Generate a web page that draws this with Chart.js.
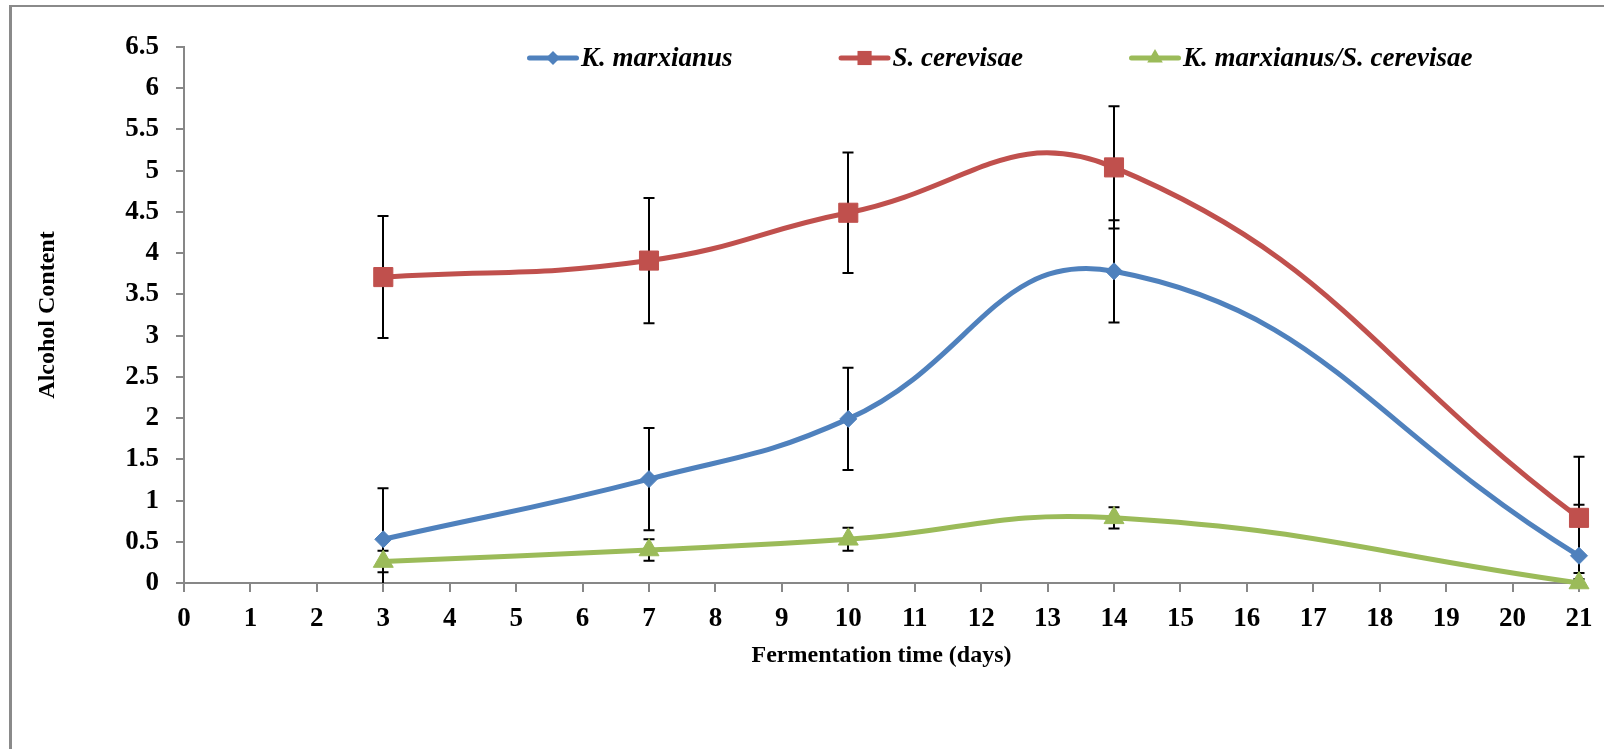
<!DOCTYPE html>
<html><head><meta charset="utf-8">
<script src="https://cdn.jsdelivr.net/npm/chart.js@4.4.0/dist/chart.umd.min.js"></script>
<style>html,body{margin:0;padding:0;background:#fff}canvas{display:block}</style>
</head><body>
<canvas id="c" width="1604" height="749"></canvas>
<script>
// ---- data ----
const days = [3, 7, 10, 14, 21];
const xTickLabels = ['0','1','2','3','4','5','6','7','8','9','10','11','12','13','14','15','16','17','18','19','20','21'];
const yTickLabels = ['0','0.5','1','1.5','2','2.5','3','3.5','4','4.5','5','5.5','6','6.5'];
const seriesNames = ['K. marxianus', 'S. cerevisae', 'K. marxianus/S. cerevisae'];
const kMarxianus    = [0.53, 1.26, 1.99, 3.78, 0.33];
const kMarxianusErr = [0.62, 0.62, 0.62, 0.62, 0.62];
const sCerevisae    = [3.71, 3.91, 4.49, 5.04, 0.79];
const sCerevisaeErr = [0.74, 0.76, 0.73, 0.74, 0.74];
const mixed         = [0.26, 0.40, 0.53, 0.79, 0.00];
const mixedErr      = [0.13, 0.13, 0.14, 0.13, 0.12];
const xTitle = 'Fermentation time (days)';
const yTitle = 'Alcohol Content';

const AXIS = '#878787';
const FONT = '"Liberation Serif", "Times New Roman", serif';

function pts(vals){ return days.map((d,i)=>({x:d, y:vals[i]})); }

function drawMarker(ctx, style, x, y, r, color){
  ctx.save();
  ctx.fillStyle = color;
  ctx.beginPath();
  if (style === 'rectRot') {
    ctx.moveTo(x, y - r); ctx.lineTo(x + r, y); ctx.lineTo(x, y + r); ctx.lineTo(x - r, y);
  } else if (style === 'rect') {
    const s = Math.SQRT1_2 * r;
    ctx.rect(x - s, y - s, 2*s, 2*s);
  } else if (style === 'triangle') {
    ctx.moveTo(x, y - r);
    ctx.lineTo(x + r*Math.sin(Math.PI/3), y + r*0.5);
    ctx.lineTo(x - r*Math.sin(Math.PI/3), y + r*0.5);
  }
  ctx.closePath();
  ctx.fill();
  ctx.restore();
}

const borderPlugin = {
  id: 'outerBorder',
  beforeDraw(chart){
    const ctx = chart.ctx;
    ctx.save();
    ctx.fillStyle = '#fff';
    ctx.fillRect(0,0,chart.width,chart.height);
    ctx.strokeStyle = '#8a8a8a';
    ctx.lineWidth = 2;
    ctx.beginPath(); ctx.moveTo(10, 6); ctx.lineTo(chart.width, 6); ctx.stroke();
    ctx.lineWidth = 3;
    ctx.beginPath(); ctx.moveTo(10.5, 5); ctx.lineTo(10.5, chart.height); ctx.stroke();
    ctx.restore();
  }
};

const errorBarPlugin = {
  id: 'errorBars',
  beforeDatasetsDraw(chart){
    const {ctx, chartArea, scales} = chart;
    const xs = scales.x, ys = scales.y;
    ctx.save();
    ctx.beginPath();
    ctx.rect(chartArea.left - 20, 0, chartArea.width + 40, chartArea.bottom);
    ctx.clip();
    ctx.strokeStyle = '#000';
    ctx.lineWidth = 2;
    chart.data.datasets.forEach(ds => {
      ds.data.forEach((p, i) => {
        const e = ds.errors[i];
        const px = Math.round(xs.getPixelForValue(p.x));
        const yt = ys.getPixelForValue(p.y + e);
        const yb = ys.getPixelForValue(p.y - e);
        ctx.beginPath();
        ctx.moveTo(px, yt); ctx.lineTo(px, yb);
        ctx.moveTo(px - 5.5, yt); ctx.lineTo(px + 5.5, yt);
        ctx.moveTo(px - 5.5, yb); ctx.lineTo(px + 5.5, yb);
        ctx.stroke();
      });
    });
    ctx.restore();
  }
};

const legendPlugin = {
  id: 'customLegend',
  afterDraw(chart){
    const ctx = chart.ctx;
    ctx.save();
    ctx.font = 'italic bold 27px ' + FONT;
    ctx.textBaseline = 'middle';
    ctx.textAlign = 'left';
    let x = 527;
    const y = 58;
    chart.data.datasets.forEach(ds => {
      ctx.strokeStyle = ds.borderColor;
      ctx.lineWidth = 5;
      ctx.lineCap = 'round';
      ctx.beginPath(); ctx.moveTo(x + 2.5, y); ctx.lineTo(x + 49.5, y); ctx.stroke();
      drawMarker(ctx, ds.pointStyle, x + 26, y, ds.legendRadius, ds.borderColor);
      ctx.fillStyle = '#000';
      ctx.fillText(ds.label, x + 54, y + 1);
      x += 54 + ctx.measureText(ds.label).width + 106;
    });
    ctx.restore();
  }
};

const common = { borderWidth: 5, tension: 0.45, pointBorderWidth: 1, clip: false, fill: false };

new Chart(document.getElementById('c'), {
  type: 'line',
  data: {
    datasets: [
      Object.assign({ label: seriesNames[0], data: pts(kMarxianus), errors: kMarxianusErr,
        borderColor: '#4F81BD', backgroundColor: '#4F81BD', pointBackgroundColor: '#4F81BD', pointBorderColor: '#4F81BD',
        pointStyle: 'rectRot', pointRadius: 8.5, pointHoverRadius: 8.5, legendRadius: 7, order: 3 }, common),
      Object.assign({ label: seriesNames[1], data: pts(sCerevisae), errors: sCerevisaeErr,
        borderColor: '#C0504D', backgroundColor: '#C0504D', pointBackgroundColor: '#C0504D', pointBorderColor: '#C0504D',
        pointStyle: 'rect', pointRadius: 13.5, pointHoverRadius: 13.5, legendRadius: 10, order: 2 }, common),
      Object.assign({ label: seriesNames[2], data: pts(mixed), errors: mixedErr,
        borderColor: '#9BBB59', backgroundColor: '#9BBB59', pointBackgroundColor: '#9BBB59', pointBorderColor: '#9BBB59',
        pointStyle: 'triangle', pointRadius: 11.5, pointHoverRadius: 11.5, legendRadius: 9, order: 1 }, common)
    ]
  },
  options: {
    responsive: false,
    animation: false,
    events: [],
    layout: { padding: { left: 33, right: 25, top: 47, bottom: 79 } },
    plugins: { legend: { display: false }, tooltip: { enabled: false } },
    scales: {
      x: {
        type: 'linear', min: 0, max: 21,
        ticks: { stepSize: 1, autoSkip: false, maxRotation: 0, color: '#000', padding: 11,
          font: { family: FONT, size: 27, weight: 'bold' },
          callback: (v, i) => xTickLabels[i] },
        grid: { drawOnChartArea: false, drawTicks: true, tickLength: 9, color: AXIS, lineWidth: 2 },
        border: { display: true, color: AXIS, width: 2 },
        title: { display: true, text: xTitle, color: '#000', padding: 0,
          font: { family: FONT, size: 24, weight: 'bold' } },
        afterFit(s){ s.height = 87; }
      },
      y: {
        type: 'linear', min: 0, max: 6.5,
        ticks: { stepSize: 0.5, autoSkip: false, color: '#000', padding: 17,
          font: { family: FONT, size: 27, weight: 'bold' },
          callback: (v, i) => yTickLabels[i] },
        grid: { drawOnChartArea: false, drawTicks: true, tickLength: 8, color: AXIS, lineWidth: 2 },
        border: { display: true, color: AXIS, width: 2 },
        title: { display: true, text: yTitle, color: '#000', padding: 0,
          font: { family: FONT, size: 24, weight: 'bold' } },
        afterFit(s){ s.width = 151; }
      }
    }
  },
  plugins: [borderPlugin, errorBarPlugin, legendPlugin]
});
</script>
</body></html>
